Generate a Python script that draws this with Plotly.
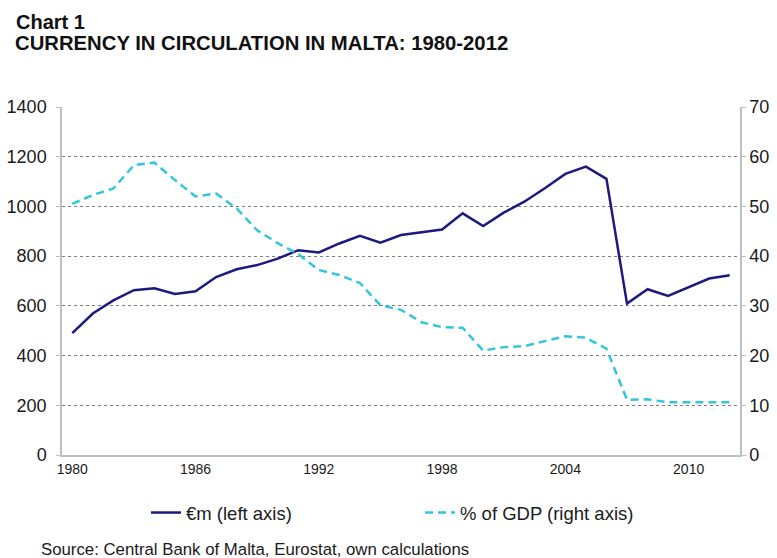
import plotly.graph_objects as go

years = list(range(1980, 2013))
eur_m = [490, 569, 622, 663, 671, 648, 659, 716, 747, 764, 790, 824, 815, 851, 882,
         854, 885, 895, 907, 972, 921, 975, 1019, 1073, 1131, 1160, 1111, 609, 667,
         640, 676, 710, 723]
pct_gdp = [50.5, 52.3, 53.6, 58.3, 58.8, 55.3, 52.0, 52.6, 49.6, 45.2, 42.6, 40.4,
           37.2, 36.2, 34.6, 30.1, 29.2, 26.7, 25.7, 25.6, 21.0, 21.7, 21.9, 22.9,
           23.9, 23.6, 21.4, 11.1, 11.2, 10.6, 10.6, 10.6, 10.6]
x_ticks = [1980, 1986, 1992, 1998, 2004, 2010]
left_ticks = [0, 200, 400, 600, 800, 1000, 1200, 1400]
right_ticks = [0, 10, 20, 30, 40, 50, 60, 70]

FONT = "Liberation Sans, Arial, sans-serif"
L, R, T, B = 62, 37, 107, 103
W, H = 777, 558
PH = H - T - B
PW = W - L - R


def py(px):
    return (H - B - px) / PH


def px_(x):
    return (x - L) / PW


fig = go.Figure()
fig.add_trace(go.Scatter(x=years, y=eur_m, mode="lines", name="€m (left axis)",
                         line=dict(color="#1c1a7c", width=2.5)))
fig.add_trace(go.Scatter(x=years, y=pct_gdp, mode="lines", name="% of GDP (right axis)",
                         yaxis="y2",
                         line=dict(color="#33c5dc", width=2.5, dash="8px,5px")))

fig.update_layout(
    width=W, height=H,
    margin=dict(l=L, r=R, t=T, b=B, pad=0, autoexpand=False),
    paper_bgcolor="white", plot_bgcolor="white",
    font=dict(family=FONT, color="#1a1a1a"),
    showlegend=True,
    legend=dict(orientation="h", x=px_(146), y=py(513), xanchor="left", yanchor="middle",
                font=dict(size=18.5, family=FONT), entrywidth=229, entrywidthmode="pixels",
                bgcolor="rgba(0,0,0,0)"),
    xaxis=dict(range=[1979.5, 2012.5], tickvals=x_ticks, ticktext=[str(t) for t in x_ticks],
               tickfont=dict(size=14), showgrid=False, zeroline=False,
               showline=True, linecolor="#bfbfbf", linewidth=1.5, ticks=""),
    yaxis=dict(range=[0, 1400], tickvals=left_ticks, tickfont=dict(size=18),
               showgrid=True, gridcolor="#7f7f7f", gridwidth=1, griddash="dot",
               zeroline=False, showline=True, linecolor="#bfbfbf", linewidth=1.5,
               ticks="outside", ticklen=4, tickcolor="#bfbfbf", ticklabelstandoff=6),
    yaxis2=dict(range=[0, 70], tickvals=right_ticks, tickfont=dict(size=18),
                overlaying="y", side="right", showgrid=False, zeroline=False,
                showline=True, linecolor="#bfbfbf", linewidth=1.5,
                ticks="outside", ticklen=4, tickcolor="#bfbfbf"),
)

annotations = [
    dict(text="<b>Chart 1</b>", x=px_(14), y=py(22), xanchor="left", yanchor="middle",
         font=dict(size=20, family=FONT, color="#111")),
    dict(text="<b>CURRENCY IN CIRCULATION IN MALTA: 1980-2012</b>", x=px_(13), y=py(43),
         xanchor="left", yanchor="middle", font=dict(size=20.3, family=FONT, color="#111")),
    dict(text="Source: Central Bank of Malta, Eurostat, own calculations", x=px_(39), y=py(549),
         xanchor="left", yanchor="middle", font=dict(size=16.8, family=FONT, color="#1a1a1a")),
]
for a in annotations:
    a.update(xref="paper", yref="paper", showarrow=False)
fig.update_layout(annotations=annotations)

fig.write_html("out.html", config={"displayModeBar": False},
               post_script="document.body.style.margin='0';")
